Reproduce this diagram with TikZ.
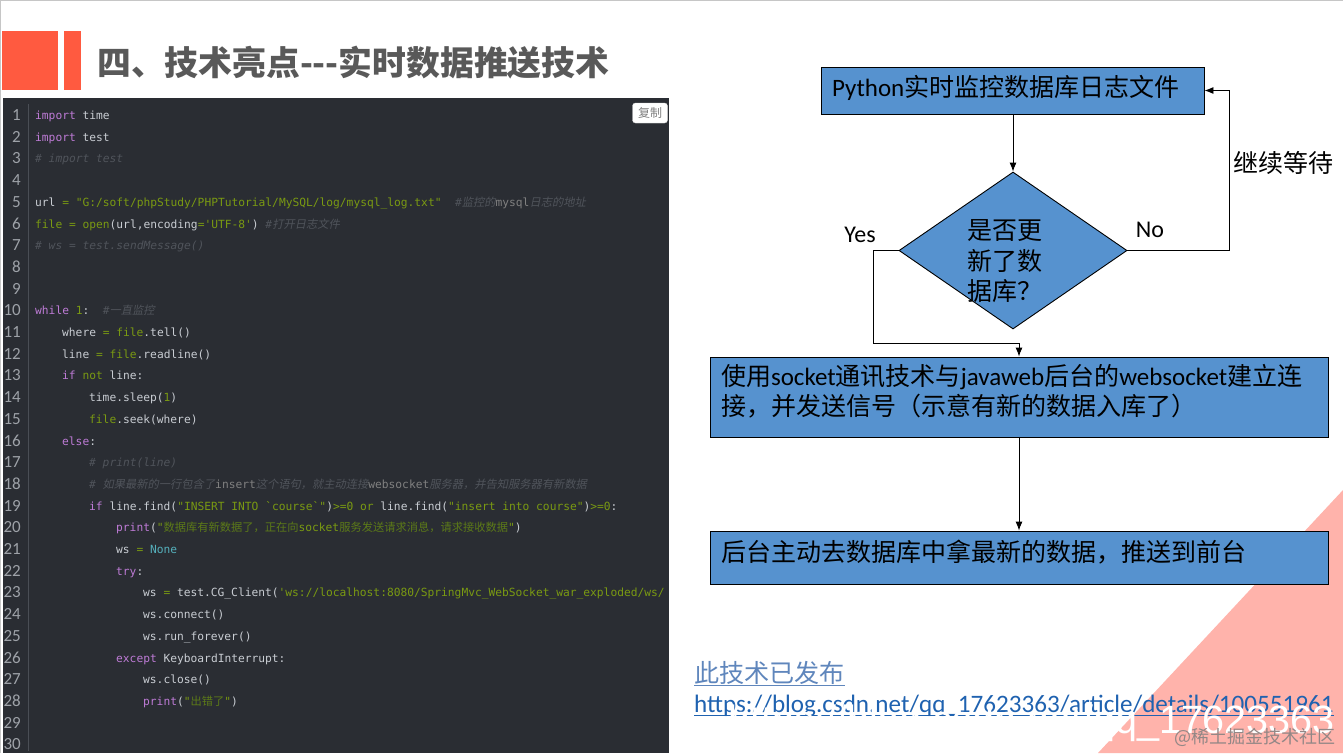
\documentclass[tikz,border=0pt]{standalone}
\usepackage{fontspec}
\usetikzlibrary{shapes.geometric,arrows.meta}
\setmainfont{Carlito}
\setmonofont{DejaVu Sans Mono}
\newfontfamily\zhfont{Noto Sans CJK SC}
\newfontfamily\zhslant[FakeSlant=0.2]{Noto Sans CJK SC}
\newfontfamily\markfont{Liberation Sans}
\definecolor{panelbg}{HTML}{2A2D33}
\definecolor{gutterline}{HTML}{4A4E55}
\definecolor{linenum}{HTML}{9EA2A8}
\definecolor{codefg}{HTML}{C9CDD3}
\definecolor{kwpurple}{HTML}{BE7BD6}
\definecolor{strgreen}{HTML}{7A9A12}
\definecolor{zhgreen}{HTML}{5C7A18}
\definecolor{cmtgray}{HTML}{50545B}
\definecolor{teal}{HTML}{55B0BC}
\definecolor{titlered}{HTML}{FF5A40}
\definecolor{titlegray}{HTML}{595959}
\definecolor{boxblue}{HTML}{5692CF}
\definecolor{pinkbg}{HTML}{FFB3AB}
\definecolor{linkpale}{HTML}{5F86BC}
\definecolor{linkblue}{HTML}{1F62B0}
\newcommand{\zh}[1]{{\zhfont #1}}
\newcommand{\kwd}[1]{\textcolor{kwpurple}{#1}}
\newcommand{\strg}[1]{\textcolor{strgreen}{#1}}
\newcommand{\zstr}[1]{\textcolor{zhgreen}{\zhfont #1}}
\newcommand{\cmt}[1]{\textcolor{cmtgray}{\itshape #1}}
\newcommand{\zcmt}[1]{\textcolor{cmtgray}{\zhslant #1}}
\tikzset{
  codeline/.style={anchor=base west, inner sep=0pt, text=codefg, font=\fontsize{11.25}{13}\selectfont\ttfamily},
  numline/.style={anchor=base east, inner sep=0pt, text=linenum, font=\fontsize{17}{18}\selectfont},
  flowbox/.style={draw=black, fill=boxblue, line width=0.9pt, inner xsep=11pt, inner ysep=0pt, align=left, font=\fontsize{25}{30}\selectfont},
  flowtext/.style={inner sep=0pt, font=\fontsize{25}{30.5}\selectfont},
  flowline/.style={draw=black, line width=0.9pt},
  flowarrow/.style={flowline, -{Latex[length=9pt,width=7pt]}},
  linktext/.style={anchor=base west, inner sep=0pt, font=\fontsize{25.1}{30}\selectfont}
}
\begin{document}
\begin{tikzpicture}[x=1pt, y=-1pt]
\useasboundingbox (0,0) rectangle (1343,753);
\fill[white] (0,0) rectangle (1343,753);
\fill[gray!45] (0,0) rectangle (1343,1.2); % top edge
\fill[gray!45] (0,0) rectangle (1.2,753); % left edge
\fill[pinkbg] (1343,490) -- (1343,753) -- (1098,753) -- cycle;

\fill[titlered] (2,31) rectangle (58,90);
\fill[titlered] (64,31) rectangle (81,90);
\node[anchor=west, inner sep=0pt, text=titlegray, font=\fontsize{33.8}{36}\selectfont\zhfont\bfseries] (title) at (97,63) {四、技术亮点-{}-{}-实时数据推送技术};

\fill[panelbg] (3,98) rectangle (669,753);
\draw[gutterline, line width=1pt] (28,104) -- (28,751);
\node[draw=gray!30, fill=white, rounded corners=3pt, minimum width=35pt, minimum height=20pt, inner sep=0pt, text=gray, font=\fontsize{12}{14}\selectfont\zhfont] (copybtn) at (650,113) {复制};

\node[numline] (num1) at (21,120.5) {1};
\node[numline] (num2) at (21,142.2) {2};
\node[numline] (num3) at (21,163.9) {3};
\node[numline] (num4) at (21,185.6) {4};
\node[numline] (num5) at (21,207.3) {5};
\node[numline] (num6) at (21,229) {6};
\node[numline] (num7) at (21,250.7) {7};
\node[numline] (num8) at (21,272.4) {8};
\node[numline] (num9) at (21,294.1) {9};
\node[numline] (num10) at (21,315.8) {10};
\node[numline] (num11) at (21,337.5) {11};
\node[numline] (num12) at (21,359.2) {12};
\node[numline] (num13) at (21,380.9) {13};
\node[numline] (num14) at (21,402.6) {14};
\node[numline] (num15) at (21,424.3) {15};
\node[numline] (num16) at (21,446) {16};
\node[numline] (num17) at (21,467.7) {17};
\node[numline] (num18) at (21,489.4) {18};
\node[numline] (num19) at (21,511.1) {19};
\node[numline] (num20) at (21,532.8) {20};
\node[numline] (num21) at (21,554.5) {21};
\node[numline] (num22) at (21,576.2) {22};
\node[numline] (num23) at (21,597.9) {23};
\node[numline] (num24) at (21,619.6) {24};
\node[numline] (num25) at (21,641.3) {25};
\node[numline] (num26) at (21,663) {26};
\node[numline] (num27) at (21,684.7) {27};
\node[numline] (num28) at (21,706.4) {28};
\node[numline] (num29) at (21,728.1) {29};
\node[numline] (num30) at (21,749.8) {30};

\node[codeline] (code1) at (35,119.5) {\kwd{import} time};
\node[codeline] (code2) at (35,141.2) {\kwd{import} test};
\node[codeline] (code3) at (35,162.9) {\cmt{\# import test}};
\node[codeline] (code5) at (35,206.3) {url \strg{= "G:/soft/phpStudy/PHPTutorial/MySQL/log/mysql\_log.txt"}\ \ \textcolor{cmtgray}{\#}\zcmt{监控的}\textcolor{gray}{mysql}\zcmt{日志的地址}};
\node[codeline] (code6) at (35,228) {\strg{file = open}(url,encoding\strg{='UTF-8'}) \cmt{\#}\zcmt{打开日志文件}};
\node[codeline] (code7) at (35,249.7) {\cmt{\# ws = test.sendMessage()}};
\node[codeline] (code10) at (35,314.8) {\kwd{while} \strg{1}:\ \ \cmt{\#}\zcmt{一直监控}};
\node[codeline] (code11) at (62,336.5) {where \strg{= file}.tell()};
\node[codeline] (code12) at (62,358.2) {line \strg{= file}.readline()};
\node[codeline] (code13) at (62,379.9) {\kwd{if} \strg{not} line:};
\node[codeline] (code14) at (89,401.6) {time.sleep(\strg{1})};
\node[codeline] (code15) at (89,423.3) {\strg{file}.seek(where)};
\node[codeline] (code16) at (62,445) {\kwd{else}:};
\node[codeline] (code17) at (89,466.7) {\cmt{\# print(line)}};
\node[codeline] (code18) at (89,488.4) {\cmt{\#} \zcmt{如果最新的一行包含了}\textcolor{gray}{insert}\zcmt{这个语句，就主动连接}\textcolor{gray}{websocket}\zcmt{服务器，并告知服务器有新数据}};
\node[codeline] (code19) at (89,510.1) {\kwd{if} line.find(\strg{"INSERT INTO `course`"})\strg{>=0 or} line.find(\strg{"insert into course"})\strg{>=0}:};
\node[codeline] (code20) at (116,531.8) {\kwd{print}(\strg{"}\zstr{数据库有新数据了，正在向}\strg{socket}\zstr{服务发送请求消息，请求接收数据}\strg{"})};
\node[codeline] (code21) at (116,553.5) {ws \strg{=} \textcolor{teal}{None}};
\node[codeline] (code22) at (116,575.2) {\kwd{try}:};
\node[codeline] (code23) at (143,596.9) {ws \strg{=} test.CG\_Client(\strg{'ws://localhost:8080/SpringMvc\_WebSocket\_war\_exploded/ws/}};
\node[codeline] (code24) at (143,618.6) {ws.connect()};
\node[codeline] (code25) at (143,640.3) {ws.run\_forever()};
\node[codeline] (code26) at (116,662) {\kwd{except} KeyboardInterrupt:};
\node[codeline] (code27) at (143,683.7) {ws.close()};
\node[codeline] (code28) at (143,705.4) {\kwd{print}(\strg{"}\zstr{出错了}\strg{"})};

\node[flowbox, minimum width=383pt, minimum height=47pt, text width=361pt, text depth=10pt] (monitor) at (1012.5,90.5) {Python\zh{实时监控数据库日志文件}};
\node[diamond, draw=black, fill=boxblue, line width=0.9pt, minimum width=228pt, minimum height=157pt, shape aspect=1.452, inner sep=0pt] (updated) at (1013,250.5) {};
\node[flowtext, align=left, anchor=center] (updatedtext) at (1004.5,261.5) {\zh{是否更}\\\zh{新了数}\\\zh{据库？}};
\node[flowbox, minimum width=618pt, minimum height=80pt, text width=596pt, text depth=44pt] (socket) at (1019,397) {\zh{使用}socket\zh{通讯技术与}javaweb\zh{后台的}websocket\zh{建立连}\\\zh{接，并发送信号（示意有新的数据入库了）}};
\node[flowbox, minimum width=618pt, minimum height=53pt, text width=596pt, text depth=13pt] (push) at (1019,557.5) {\zh{后台主动去数据库中拿最新的数据，推送到前台}};

\coordinate (nocornera) at (1229,250.5);
\coordinate (nocornerb) at (1229,90.5);
\coordinate (yescornera) at (873,250.5);
\coordinate (yescornerb) at (873,343);
\coordinate (yescornerc) at (1019,343);
\draw[flowarrow] (monitor.south -| updated.north) -- (updated.north);
\draw[flowarrow] (updated.east) -- (nocornera) -- (nocornerb) -- (monitor.east);
\draw[flowarrow] (updated.west) -- (yescornera) -- (yescornerb) -- (yescornerc) -- (socket.north);
\draw[flowarrow] (socket.south) -- (push.north);

\node[flowtext, font=\fontsize{24}{30}\selectfont] (yeslabel) at (860,235) {Yes};
\node[flowtext, font=\fontsize{24}{30}\selectfont] (nolabel) at (1150,230) {No};
\node[flowtext, anchor=west] (waitlabel) at (1233,163) {\zh{继续等待}};

\node[linktext, text=linkpale] (pubtext) at (694,682) {\zh{此技术已发布}};
\node[linktext, text=linkblue] (urltext) at (694,712) {https://blog.csdn.net/qq\_17623363/article/details/100551961};
\draw[linkpale, line width=1pt] ([yshift=-3pt]pubtext.base west) -- ([yshift=-3pt]pubtext.base east);
\draw[linkblue, line width=1pt] ([yshift=-3pt]urltext.base west) -- ([yshift=-3pt]urltext.base east);

\node[anchor=base east, inner sep=0pt, text=white, font=\fontsize{39.5}{44}\selectfont\markfont] (markname) at (1335,733.5) {https://blog.csdn.net/qq\_17623363};
\node[anchor=base east, inner sep=0pt, text=gray!85!pinkbg, font=\fontsize{18}{20}\selectfont\zhfont] (marksite) at (1336,743) {@稀土掘金技术社区};
\end{tikzpicture}
\end{document}
